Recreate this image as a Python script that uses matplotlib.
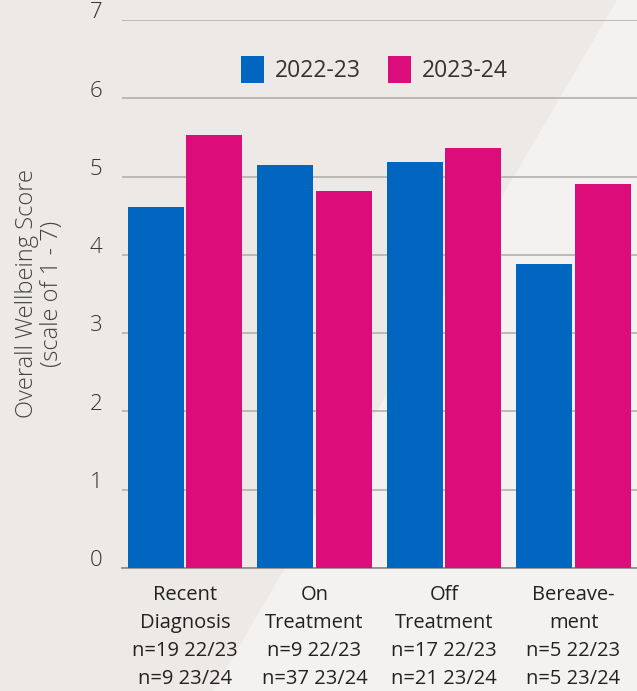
import numpy as np
import matplotlib.pyplot as plt
from matplotlib.patches import Polygon
import matplotlib.transforms as mtransforms

categories = ["Recent\nDiagnosis", "On\nTreatment", "Off\nTreatment", "Bereave-\nment"]
n_2223 = [19, 9, 17, 5]
n_2324 = [9, 37, 21, 5]
scores_2223 = [4.61, 5.15, 5.19, 3.88]
scores_2324 = [5.53, 4.81, 5.36, 4.90]
series_names = ["2022-23", "2023-24"]

blue = "#0066c0"
pink = "#dd0c7b"

plt.rcParams["font.family"] = ["Open Sans", "DejaVu Sans"]

fig = plt.figure(figsize=(6.37, 6.91), dpi=100)
fig.patch.set_facecolor("#ece9e6")

# background axes holding the lighter diagonal panel
bg = fig.add_axes([0, 0, 1, 1], zorder=-1)
bg.set_xlim(0, 637)
bg.set_ylim(691, 0)
bg.axis("off")
bg.add_patch(Polygon([(617, 0), (637, 0), (637, 691), (213, 691)], closed=True,
                     facecolor="#f3f2f0", edgecolor="none"))

ax = fig.add_axes([122/637, 1 - 568/691, 1 - 122/637, (568 - 20)/691])
ax.set_facecolor("none")

x = np.arange(len(categories))
w = 0.432
off = 0.225
ax.bar(x - off, scores_2223, w, color=blue, label=series_names[0], zorder=3)
ax.bar(x + off, scores_2324, w, color=pink, label=series_names[1], zorder=3)

ax.set_xlim(-0.486, 3.49)
ax.set_ylim(0, 7)
ax.set_yticks(range(0, 8))
ax.yaxis.grid(True, color="#b3b0ae", linewidth=1.2, zorder=1)
ax.set_axisbelow(True)
for s in ["top", "right", "left"]:
    ax.spines[s].set_visible(False)
ax.spines["bottom"].set_color("#8a8887")
ax.spines["bottom"].set_linewidth(1.2)

ax.tick_params(axis="y", length=0, pad=14, labelsize=16, labelcolor="#333333")
shift = mtransforms.ScaledTranslation(0, 7/72, fig.dpi_scale_trans)
for lab in ax.get_yticklabels():
    lab.set_transform(lab.get_transform() + shift)
    lab.set_fontweight("light")

xlabels = [f"{c}\nn={a} 22/23\nn={b} 23/24" for c, a, b in zip(categories, n_2223, n_2324)]
ax.set_xticks(x)
ax.set_xticklabels(xlabels, fontsize=14.5, color="#222222", linespacing=1.55)
ax.tick_params(axis="x", length=0, pad=12)

ax.set_ylabel("Overall Wellbeing Score\n(scale of 1 - 7)", fontsize=17,
              color="#444444", linespacing=1.05, fontweight="light")
ax.yaxis.set_label_coords(-0.112, 0.50)

ax.legend(loc="center", bbox_to_anchor=(0.49, 0.909), ncol=2, frameon=False,
          fontsize=16.5, handlelength=1.0, handleheight=1.4, columnspacing=1.2,
          handletextpad=0.45, labelcolor="#333333")

plt.savefig("out.png", dpi=100, facecolor=fig.get_facecolor())
